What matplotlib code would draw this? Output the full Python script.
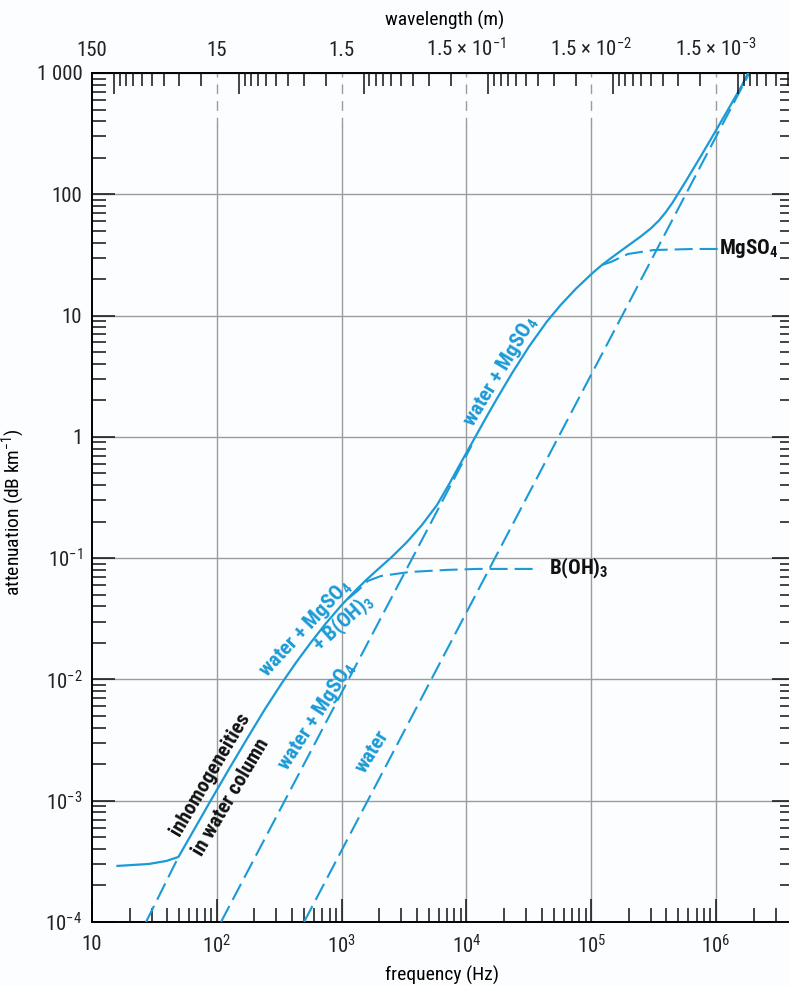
import matplotlib
matplotlib.use('Agg')
import matplotlib.pyplot as plt
from matplotlib import font_manager
from matplotlib.ticker import FixedLocator, NullFormatter
import numpy as np

# Values: frequency in Hz, attenuation in dB/km
total_freq = [16.0, 28.6, 39.6, 49.3, 65.9, 91.4, 126.6, 175.4, 243, 331, 434, 570, 748,
              982, 1252, 1567, 1888, 2500, 3311, 4385, 5808, 7278, 8775, 10190, 12330,
              14920, 18050, 23110, 31930, 44150, 56490, 75160, 103700, 122300, 144100,
              173000, 207600, 249300, 299300, 346600, 393900, 447700, 578100, 746600,
              964000, 1247000, 1614000, 1800000]
total_atten = [2.90e-4, 3.01e-4, 3.19e-4, 3.44e-4, 5.80e-4, 1.045e-3, 1.86e-3, 3.27e-3,
               5.69e-3, 9.29e-3, 0.0139, 0.0203, 0.0290, 0.0402, 0.0524, 0.0658, 0.0784,
               0.1014, 0.1346, 0.1868, 0.274, 0.409, 0.581, 0.765, 1.087, 1.545, 2.17,
               3.33, 5.61, 8.94, 12.13, 16.6, 22.7, 26.2, 29.8, 34.2, 39.2, 44.9, 52.2,
               60.4, 70.8, 85.3, 130.4, 202.2, 316, 499, 793, 1000]

inhom_freq = [27.1, 49.3]
inhom_atten = [1e-4, 3.44e-4]

water_mgso4_freq = [108, 11000]
water_mgso4_atten = [1e-4, 0.85]

water_freq = [500, 1850000]
water_atten = [1e-4, 1000]

boric_freq = [1119, 1349, 1625, 2070, 3510, 7010, 12300, 38600]
boric_atten = [0.0461, 0.0540, 0.0649, 0.0713, 0.0769, 0.0800, 0.0815, 0.0815]

mgso4_freq = [122300, 144100, 197000, 316000, 656000, 1040000]
mgso4_atten = [26.2, 27.7, 32.2, 34.7, 35.4, 35.4]

x_ticks = [10, 1e2, 1e3, 1e4, 1e5, 1e6]
x_labels = ['10', '10$^{2}$', '10$^{3}$', '10$^{4}$', '10$^{5}$', '10$^{6}$']
y_ticks = [1e-4, 1e-3, 1e-2, 1e-1, 1, 10, 100, 1000]
y_labels = ['10$^{-4}$', '10$^{-3}$', '10$^{-2}$', '10$^{-1}$', '1', '10', '100', '1 000']
wl_labels = ['150', '15', '1.5', '1.5 × 10$^{-1}$', '1.5 × 10$^{-2}$', '1.5 × 10$^{-3}$']
wl_long = [100, 10, 1, 0.1, 0.01, 0.001]
wl_decades = [10, 1, 0.1, 0.01, 0.001, 0.0001]

SOUND_SPEED = 1500.0  # m/s, converts frequency to wavelength


def pick_font():
    fonts = font_manager.fontManager.ttflist
    names = {f.name for f in fonts}
    for n in ['Liberation Sans Narrow', 'Roboto Condensed', 'Open Sans Condensed',
              'Noto Sans Condensed', 'DejaVu Sans Condensed']:
        if n in names:
            return n, 'normal'
    for f in fonts:
        if f.stretch in ('condensed', 'semi-condensed') and 'Sans' in f.name \
                and 'Mono' not in f.name and 'CJK' not in f.name:
            return f.name, f.stretch
    return 'Liberation Sans', 'normal'


FONT, STRETCH = pick_font()
plt.rcParams['font.family'] = [FONT, 'DejaVu Sans']
plt.rcParams['font.stretch'] = STRETCH
plt.rcParams['mathtext.fontset'] = 'custom'
plt.rcParams['mathtext.rm'] = FONT
plt.rcParams['mathtext.it'] = FONT
plt.rcParams['mathtext.bf'] = FONT + ':bold'
plt.rcParams['lines.scale_dashes'] = False

BLUE = '#1b9ad6'
GRID = '#9c9c9c'
BG = '#fbfdfe'
DASH = (13, 5)

fig = plt.figure(figsize=(7.89, 9.86), dpi=100, facecolor=BG)
ax = fig.add_axes([92 / 789, 64 / 986, 697 / 789, 849 / 986])
ax.set_facecolor(BG)
ax.set_xscale('log')
ax.set_yscale('log')
ax.set_xlim(10, 3.84e6)
ax.set_ylim(1e-4, 1e3)

# grid: horizontal solid, vertical solid with a dashed top part
ax.grid(axis='y', which='major', color=GRID, lw=1.0, zorder=0)
grid_split = (np.log10(360) + 4) / 7
for f in x_ticks[1:]:
    ax.axvline(f, ymin=0, ymax=grid_split, color=GRID, lw=1.0, zorder=0)
    ax.axvline(f, ymin=grid_split, ymax=1, color=GRID, lw=1.0, dashes=(7, 5), zorder=0)

# curves
ax.plot(total_freq, total_atten, color=BLUE, lw=1.6, zorder=3)
for fr, at in [(inhom_freq, inhom_atten), (water_mgso4_freq, water_mgso4_atten),
               (water_freq, water_atten), (boric_freq, boric_atten),
               (mgso4_freq, mgso4_atten)]:
    ax.plot(fr, at, color=BLUE, lw=1.5, dashes=DASH, zorder=3)

# main axis ticks
ax.xaxis.set_major_locator(FixedLocator(x_ticks))
ax.set_xticklabels(x_labels)
ax.yaxis.set_major_locator(FixedLocator(y_ticks))
ax.set_yticklabels(y_labels)
ax.tick_params(which='both', direction='in', top=False, right=False, width=1.1, color='#111')
ax.tick_params(which='major', length=16.5, labelsize=15, labelcolor='#222')
ax.tick_params(which='minor', length=10)
ax.tick_params(axis='x', which='major', pad=9)
ax.tick_params(axis='y', which='major', pad=7)
ax.yaxis.set_minor_formatter(NullFormatter())
ax.xaxis.set_minor_formatter(NullFormatter())
for s in ['left', 'bottom', 'top']:
    ax.spines[s].set_linewidth(1.4)
ax.spines['right'].set_visible(False)

# right side ticks
axr = ax.twinx()
axr.set_yscale('log')
axr.set_ylim(ax.get_ylim())
axr.yaxis.set_major_locator(FixedLocator(y_ticks))
axr.tick_params(which='both', direction='in', labelright=False, width=1.1, color='#111')
axr.tick_params(which='major', length=12)
axr.tick_params(which='minor', length=6.5)
axr.yaxis.set_minor_formatter(NullFormatter())
for s in axr.spines.values():
    s.set_visible(False)

# top wavelength axis
axt = ax.twiny()
axt.set_xscale('log')
axt.set_xlim(ax.get_xlim())
axt.xaxis.set_major_locator(FixedLocator([SOUND_SPEED / w for w in wl_long]))
short = [SOUND_SPEED / (m * d) for d in wl_decades for m in range(2, 10)]
axt.xaxis.set_minor_locator(FixedLocator(short))
axt.xaxis.set_major_formatter(NullFormatter())
axt.xaxis.set_minor_formatter(NullFormatter())
axt.tick_params(which='both', direction='in', width=1.1, color='#111')
axt.tick_params(which='major', length=15)
axt.tick_params(which='minor', length=9.5)
for s in axt.spines.values():
    s.set_visible(False)
for f, lab in zip(x_ticks, wl_labels):
    ax.annotate(lab, xy=(f, 1), xycoords=('data', 'axes fraction'), xytext=(0, 9),
                textcoords='offset points', ha='center', va='bottom', fontsize=15,
                color='#222')

# axis titles
fig.text(445 / 789, 1 - 20 / 986, 'wavelength (m)', ha='center', va='center', fontsize=14)
fig.text(442 / 789, 1 - 975 / 986, 'frequency (Hz)', ha='center', va='center', fontsize=14)
fig.text(13 / 789, 1 - 512 / 986, 'attenuation (dB km$^{-1}$)', ha='center', va='center',
         rotation=90, fontsize=14)

# curve labels
lab = dict(fontsize=15, fontweight='bold', ha='center', va='center', rotation_mode='anchor')
ax.text(88.2, 1.66e-3, 'inhomogeneities', color='#111', rotation=59.5, **lab)
ax.text(128.9, 1.074e-3, 'in water column', color='#111', rotation=59.5, **lab)
ax.text(507, 0.0263, r'water + MgSO$_\mathbf{4}$', color=BLUE, rotation=47, **lab)
ax.text(1038, 0.0292, r'+ B(OH)$_\mathbf{3}$', color=BLUE, rotation=42, **lab)
ax.text(624, 4.95e-3, r'water + MgSO$_\mathbf{4}$', color=BLUE, rotation=57, **lab)
ax.text(1771, 2.55e-3, 'water', color=BLUE, rotation=58, **lab)
ax.text(1.87e4, 3.46, r'water + MgSO$_\mathbf{4}$', color=BLUE, rotation=59, **lab)
ax.text(1.05e6, 35.4, r'MgSO$_\mathbf{4}$', color='#111', fontsize=15, fontweight='bold',
        ha='left', va='center')
ax.text(4.6e4, 0.0815, r'B(OH)$_\mathbf{3}$', color='#111', fontsize=15, fontweight='bold',
        ha='left', va='center')

fig.savefig('out.png', dpi=100, facecolor=BG)
